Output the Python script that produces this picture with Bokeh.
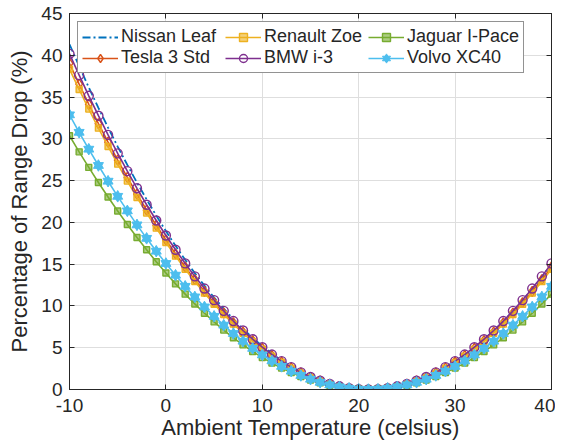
from bokeh.plotting import figure
from bokeh.models import ColumnDataSource, Legend, LegendItem, LinearAxis, FixedTicker, Range1d
from bokeh.embed import file_html
from bokeh.resources import INLINE

temps = list(range(-10, 41))

nissan_leaf = [41.32, 38.70, 36.16, 33.71, 31.35, 29.07, 26.88, 24.77, 22.75, 20.81,
               18.96, 17.20, 15.52, 13.93, 12.43, 11.01, 9.68, 8.43, 7.27, 6.19,
               5.20, 4.30, 3.48, 2.75, 2.11, 1.55, 1.08, 0.69, 0.39, 0.17,
               0.04, 0.00, 0.04, 0.17, 0.37, 0.67, 1.04, 1.50, 2.04, 2.66,
               3.37, 4.16, 5.03, 5.99, 7.03, 8.15, 9.36, 10.65, 12.02, 13.48, 15.02]
tesla_3_std = [39.02, 36.54, 34.14, 31.83, 29.60, 27.45, 25.38, 23.39, 21.48, 19.65,
               17.90, 16.24, 14.66, 13.15, 11.73, 10.39, 9.14, 7.96, 6.86, 5.85,
               4.91, 4.06, 3.29, 2.60, 1.99, 1.46, 1.02, 0.65, 0.37, 0.16,
               0.04, 0.00, 0.04, 0.16, 0.37, 0.65, 1.02, 1.46, 1.99, 2.60,
               3.29, 4.06, 4.91, 5.85, 6.86, 7.96, 9.14, 10.39, 11.73, 13.15, 14.66]
renault_zoe = [38.34, 35.91, 33.56, 31.28, 29.09, 26.97, 24.94, 22.98, 21.11, 19.31,
               17.60, 15.96, 14.40, 12.93, 11.53, 10.21, 8.98, 7.82, 6.74, 5.75,
               4.83, 3.99, 3.23, 2.55, 1.96, 1.44, 1.00, 0.64, 0.36, 0.16,
               0.04, 0.00, 0.04, 0.16, 0.36, 0.64, 1.00, 1.44, 1.96, 2.55,
               3.23, 3.99, 4.83, 5.75, 6.74, 7.82, 8.98, 10.21, 11.53, 12.93, 14.40]
bmw_i3 = [40.17, 37.62, 35.15, 32.77, 30.47, 28.26, 26.13, 24.08, 22.11, 20.23,
          18.43, 16.72, 15.09, 13.54, 12.08, 10.70, 9.41, 8.19, 7.06, 6.02,
          5.06, 4.18, 3.39, 2.68, 2.05, 1.50, 1.05, 0.67, 0.38, 0.17,
          0.04, 0.00, 0.04, 0.17, 0.38, 0.67, 1.05, 1.50, 2.05, 2.68,
          3.39, 4.18, 5.06, 6.02, 7.06, 8.19, 9.41, 10.70, 12.08, 13.54, 15.09]
jaguar_ipace = [30.37, 28.44, 26.58, 24.77, 23.04, 21.36, 19.75, 18.20, 16.72, 15.29,
                13.94, 12.64, 11.41, 10.24, 9.13, 8.09, 7.11, 6.19, 5.34, 4.55,
                3.82, 3.16, 2.56, 2.02, 1.55, 1.14, 0.79, 0.51, 0.28, 0.13,
                0.03, 0.00, 0.03, 0.13, 0.28, 0.51, 0.79, 1.14, 1.55, 2.02,
                2.56, 3.16, 3.82, 4.55, 5.34, 6.19, 7.11, 8.09, 9.13, 10.24, 11.41]
volvo_xc40 = [32.87, 30.78, 28.76, 26.81, 24.93, 23.12, 21.38, 19.70, 18.09, 16.55,
              15.08, 13.68, 12.35, 11.08, 9.88, 8.76, 7.70, 6.70, 5.78, 4.92,
              4.14, 3.42, 2.77, 2.19, 1.68, 1.23, 0.86, 0.55, 0.31, 0.14,
              0.03, 0.00, 0.03, 0.14, 0.31, 0.55, 0.86, 1.23, 1.68, 2.19,
              2.77, 3.42, 4.14, 4.92, 5.78, 6.70, 7.70, 8.76, 9.88, 11.08, 12.35]

x_ticks = [-10, 0, 10, 20, 30, 40]
x_labels = ["-10", "0", "10", "20", "30", "40"]
y_ticks = [0, 5, 10, 15, 20, 25, 30, 35, 40, 45]
y_labels = ["0", "5", "10", "15", "20", "25", "30", "35", "40", "45"]

TXT = "#262626"
FONT = "Liberation Sans"

p = figure(width=555, height=446, output_backend="svg", toolbar_location=None,
           x_range=Range1d(-10, 40), y_range=Range1d(0, 45),
           min_border_left=69, min_border_right=4, min_border_top=13, min_border_bottom=57)

p.background_fill_color = "white"
p.outline_line_color = TXT
p.outline_line_width = 1

for ax, lab in ((p.xaxis[0], "Ambient Temperature (celsius)"), (p.yaxis[0], "Percentage of Range Drop (%)")):
    ax.axis_label = lab
    ax.axis_label_text_font = FONT
    ax.axis_label_text_font_size = "22px"
    ax.axis_label_text_font_style = "normal"
    ax.axis_label_text_color = TXT
    ax.major_label_text_font = FONT
    ax.major_label_text_font_size = "19px"
    ax.major_label_text_color = TXT
    ax.axis_line_color = TXT
    ax.major_tick_line_color = TXT
    ax.major_tick_in = 5
    ax.major_tick_out = 0
    ax.minor_tick_line_color = None

p.xaxis[0].ticker = FixedTicker(ticks=x_ticks)
p.xaxis[0].major_label_overrides = dict(zip(x_ticks, x_labels))
p.yaxis[0].ticker = FixedTicker(ticks=y_ticks)
p.yaxis[0].major_label_overrides = dict(zip(y_ticks, y_labels))
p.xaxis[0].major_label_standoff = 9
p.xaxis[0].axis_label_standoff = 0
p.yaxis[0].major_label_standoff = 7
p.yaxis[0].axis_label_standoff = 6

for side, tk in (("above", x_ticks), ("right", y_ticks)):
    ax = LinearAxis(ticker=FixedTicker(ticks=tk))
    ax.major_label_overrides = {t: "" for t in tk}
    ax.major_label_text_font_size = "1px"
    ax.major_label_standoff = 0
    ax.axis_line_color = TXT
    ax.major_tick_line_color = TXT
    ax.major_tick_in = 5
    ax.major_tick_out = 0
    ax.minor_tick_line_color = None
    p.add_layout(ax, side)

p.xgrid.ticker = FixedTicker(ticks=x_ticks)
p.ygrid.ticker = FixedTicker(ticks=y_ticks)
p.grid.grid_line_color = "#dedede"
p.grid.grid_line_width = 1

src = ColumnDataSource(dict(t=temps, nissan=nissan_leaf, tesla=tesla_3_std, renault=renault_zoe,
                            bmw=bmw_i3, jaguar=jaguar_ipace, volvo=volvo_xc40))

LW = 1.6
items = []

r = p.line("t", "nissan", source=src, color="#0072BD", line_width=LW + 0.2, line_dash="8 3 2 3")
items.append(LegendItem(label="Nissan Leaf", renderers=[r]))

r1 = p.line("t", "tesla", source=src, color="#D95319", line_width=LW)
r2 = p.scatter("t", "tesla", source=src, marker="diamond", size=10, line_color="#D95319",
               fill_color=None, line_width=1.4)
items.append(LegendItem(label="Tesla 3 Std", renderers=[r1, r2]))

r1 = p.line("t", "renault", source=src, color="#EDB120", line_width=LW)
r2 = p.scatter("t", "renault", source=src, marker="square", size=6, line_color="#EDB120",
               fill_color="#EDB120", fill_alpha=0.6, line_width=1.4)
items.append(LegendItem(label="Renault Zoe", renderers=[r1, r2]))

r1 = p.line("t", "bmw", source=src, color="#7E2F8E", line_width=LW)
r2 = p.scatter("t", "bmw", source=src, marker="circle", size=9, line_color="#7E2F8E",
               fill_color=None, line_width=1.4)
items.append(LegendItem(label="BMW i-3", renderers=[r1, r2]))

r1 = p.line("t", "jaguar", source=src, color="#77AC30", line_width=LW)
r2 = p.scatter("t", "jaguar", source=src, marker="square", size=6, line_color="#77AC30",
               fill_color="#77AC30", fill_alpha=0.6, line_width=1.4)
items.append(LegendItem(label="Jaguar I-Pace", renderers=[r1, r2]))

r1 = p.line("t", "volvo", source=src, color="#4DBEEE", line_width=LW)
r2 = p.scatter("t", "volvo", source=src, marker="triangle", size=10, line_color="#4DBEEE",
               fill_color="#4DBEEE", line_width=1)
r3 = p.scatter("t", "volvo", source=src, marker="inverted_triangle", size=10, line_color="#4DBEEE",
               fill_color="#4DBEEE", line_width=1)
items.append(LegendItem(label="Volvo XC40", renderers=[r1, r2, r3]))

legend = Legend(items=items, location="top_left", orientation="vertical", nrows=2,
                margin=8, padding=4, spacing=0, label_standoff=3,
                glyph_width=36, glyph_height=20, label_height=20, label_width=104,
                label_text_font=FONT, label_text_font_size="18px", label_text_color=TXT,
                border_line_color=TXT, border_line_width=1, background_fill_alpha=1)
p.add_layout(legend)

open("out.html", "w").write(file_html(p, INLINE))
